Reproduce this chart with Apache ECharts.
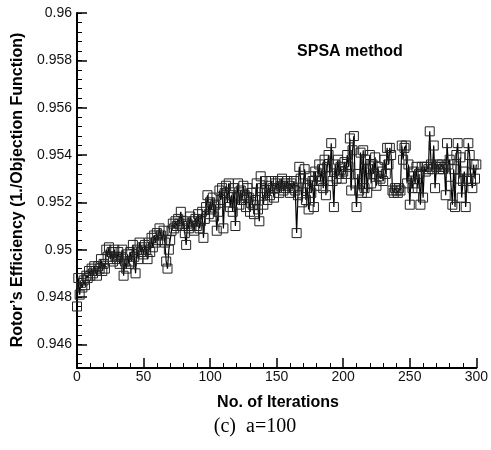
<!DOCTYPE html>
<html>
<head>
<meta charset="utf-8">
<script src="https://cdn.jsdelivr.net/npm/echarts@6/dist/echarts.min.js"></script>
<style>
html,body{margin:0;padding:0;background:#fff;}
#chart{width:491px;height:450px;}
</style>
</head>
<body>
<div id="chart"></div>
<script>
// Rotor's efficiency per iteration (iterations 0..300)
const efficiency = [
  0.9476, 0.9488, 0.9481, 0.9486, 0.9484, 0.9487, 0.9485, 0.9489, 0.9488, 0.9491,
  0.9489, 0.9492, 0.9490, 0.9493, 0.9491, 0.9489, 0.9493, 0.9492, 0.9496, 0.9491,
  0.9494, 0.9492, 0.9500, 0.9497, 0.9501, 0.9496, 0.9499, 0.9495, 0.9500, 0.9497,
  0.9496, 0.9499, 0.9494, 0.9497, 0.9500, 0.9489, 0.9495, 0.9492, 0.9498, 0.9494,
  0.9499, 0.9495, 0.9502, 0.9497, 0.9490, 0.9500, 0.9496, 0.9503, 0.9499, 0.9501,
  0.9498, 0.9502, 0.9500, 0.9496, 0.9503, 0.9499, 0.9505, 0.9501, 0.9506, 0.9503,
  0.9507, 0.9504, 0.9509, 0.9506, 0.9504, 0.9508, 0.9503, 0.9495, 0.9492, 0.9500,
  0.9504, 0.9508, 0.9511, 0.9509, 0.9512, 0.9510, 0.9513, 0.9511, 0.9516, 0.9510,
  0.9512, 0.9507, 0.9502, 0.9511, 0.9509, 0.9514, 0.9510, 0.9512, 0.9508, 0.9513,
  0.9510, 0.9515, 0.9509, 0.9512, 0.9516, 0.9505, 0.9513, 0.9518, 0.9523, 0.9515,
  0.9520, 0.9517, 0.9522, 0.9514, 0.9519, 0.9508, 0.9516, 0.9525, 0.9521, 0.9526,
  0.9509, 0.9524, 0.9527, 0.9520, 0.9528, 0.9518, 0.9523, 0.9516, 0.9526, 0.9510,
  0.9522, 0.9528, 0.9519, 0.9525, 0.9521, 0.9527, 0.9523, 0.9518, 0.9526, 0.9522,
  0.9516, 0.9524, 0.9519, 0.9515, 0.9521, 0.9528, 0.9517, 0.9512, 0.9531, 0.9526,
  0.9519, 0.9524, 0.9529, 0.9521, 0.9527, 0.9523, 0.9529, 0.9526, 0.9522, 0.9528,
  0.9526, 0.9529, 0.9524, 0.9527, 0.9530, 0.9525, 0.9528, 0.9526, 0.9529, 0.9527,
  0.9524, 0.9528, 0.9526, 0.9529, 0.9525, 0.9507, 0.9523, 0.9535, 0.9530, 0.9520,
  0.9528, 0.9534, 0.9521, 0.9526, 0.9517, 0.9531, 0.9524, 0.9529, 0.9518, 0.9533,
  0.9527, 0.9531, 0.9536, 0.9529, 0.9534, 0.9526, 0.9538, 0.9523, 0.9535, 0.9540,
  0.9531, 0.9545, 0.9529, 0.9518, 0.9536, 0.9530, 0.9538, 0.9532, 0.9535, 0.9530,
  0.9533, 0.9537, 0.9532, 0.9540, 0.9535, 0.9547, 0.9525, 0.9542, 0.9548, 0.9528,
  0.9518, 0.9532, 0.9525, 0.9541, 0.9524, 0.9542, 0.9526, 0.9538, 0.9524, 0.9534,
  0.9540, 0.9528, 0.9536, 0.9532, 0.9539, 0.9527, 0.9535, 0.9531, 0.9530, 0.9533,
  0.9529, 0.9538, 0.9532, 0.9543, 0.9536, 0.9543, 0.9540, 0.9525, 0.9524, 0.9526,
  0.9525, 0.9524, 0.9526, 0.9525, 0.9544, 0.9538, 0.9543, 0.9544, 0.9528, 0.9536,
  0.9519, 0.9531, 0.9526, 0.9533, 0.9528, 0.9535, 0.9526, 0.9532, 0.9519, 0.9535,
  0.9522, 0.9535, 0.9533, 0.9535, 0.9534, 0.9550, 0.9536, 0.9534, 0.9544, 0.9526,
  0.9535, 0.9536, 0.9534, 0.9535, 0.9536, 0.9534, 0.9535, 0.9523, 0.9545, 0.9536,
  0.9538, 0.9527, 0.9519, 0.9534, 0.9518, 0.9540, 0.9545, 0.9530, 0.9539, 0.9522,
  0.9529, 0.9533, 0.9518, 0.9530, 0.9545, 0.9540, 0.9529, 0.9526, 0.9536, 0.9530,
  0.9536
];
const iterations = efficiency.map((_, i) => i);
const xTicks = [0, 50, 100, 150, 200, 250, 300];
const yTicks = [0.946, 0.948, 0.95, 0.952, 0.954, 0.956, 0.958, 0.96];
const yMin = 0.945;
// minor y ticks every 0.0004 between 0.945 and 0.96
const yMinorTicks = [];
for (let k = 2363; k <= 2400; k++) yMinorTicks.push(+(k * 0.0004).toFixed(4));

const title = 'SPSA method';
const xName = 'No. of Iterations';
const yName = 'Rotor\u2019s Efficiency (1./Objection Function)';
const caption = '(c)  a=100';

const chart = echarts.init(document.getElementById('chart'), null, {renderer: 'canvas'});
const FONT = 'Liberation Sans, Arial, sans-serif';

chart.setOption({
  animation: false,
  backgroundColor: '#fff',
  textStyle: {fontFamily: FONT},
  grid: {left: 77, right: 11, top: 13, bottom: 82, containLabel: false},
  xAxis: {
    type: 'value',
    min: xTicks[0],
    max: xTicks[xTicks.length - 1],
    interval: 50,
    axisLine: {show: true, lineStyle: {color: '#000', width: 2}},
    axisTick: {show: true, inside: true, length: 10, lineStyle: {color: '#000', width: 1.5}},
    minorTick: {show: true, splitNumber: 5, length: 5, lineStyle: {color: '#000', width: 1}},
    splitLine: {show: false},
    minorSplitLine: {show: false},
    axisLabel: {color: '#111', fontSize: 14, fontFamily: FONT, margin: 2}
  },
  yAxis: [{
    type: 'value',
    position: 'left',
    min: yMin,
    max: yTicks[yTicks.length - 1],
    axisLine: {show: true, lineStyle: {color: '#000', width: 2}},
    axisTick: {show: true, inside: true, length: 10, customValues: yTicks, lineStyle: {color: '#000', width: 1.5}},
    axisLabel: {color: '#111', fontSize: 14, fontFamily: FONT, margin: 5, customValues: yTicks,
      formatter: v => String(Math.round(v * 1000) / 1000)},
    splitLine: {show: false}
  }, {
    type: 'value',
    position: 'left',
    offset: 0,
    min: yMin,
    max: yTicks[yTicks.length - 1],
    axisLine: {show: false},
    axisTick: {show: true, inside: true, length: 5, customValues: yMinorTicks, lineStyle: {color: '#000', width: 1}},
    axisLabel: {show: false},
    splitLine: {show: false}
  }],
  graphic: [
    {type: 'text', x: 350, y: 52, style: {text: title, font: 'bold 16px ' + FONT, fill: '#000', align: 'center', verticalAlign: 'middle'}},
    {type: 'text', x: 278, y: 403, style: {text: xName, font: 'bold 16px ' + FONT, fill: '#000', align: 'center', verticalAlign: 'middle'}},
    {type: 'text', x: 18, y: 190, rotation: Math.PI / 2, style: {text: yName, font: 'bold 16px ' + FONT, fill: '#000', align: 'center', verticalAlign: 'middle'}},
    {type: 'text', x: 255, y: 427, style: {text: caption, font: '20px Liberation Serif, Times New Roman, serif', fill: '#000', align: 'center', verticalAlign: 'middle'}}
  ],
  series: [{
    type: 'line',
    yAxisIndex: 0,
    data: iterations.map((x, i) => [x, efficiency[i]]),
    symbol: 'rect',
    symbolSize: 9,
    showAllSymbol: true,
    lineStyle: {color: '#000', width: 1.2},
    itemStyle: {color: 'rgba(0,0,0,0)', borderColor: '#222', borderWidth: 1},
    emphasis: {disabled: true}
  }]
});
</script>
</body>
</html>
